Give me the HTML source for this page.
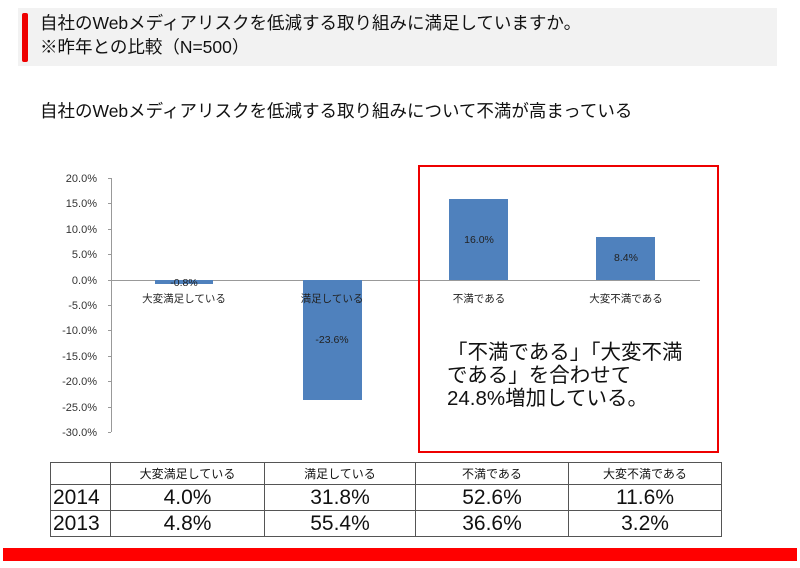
<!DOCTYPE html>
<html><head><meta charset="utf-8"><style>
body{margin:0;width:800px;height:568px;background:#fff;position:relative;overflow:hidden;font-family:"Liberation Sans","Noto Sans CJK JP",sans-serif;}
.a{position:absolute;}
table{border-collapse:collapse;}
td{border:1px solid #555;text-align:center;padding:0;}
</style></head><body>
<div class="a" style="left:18px;top:8px;width:759px;height:58px;background:#f2f2f2"></div>
<div class="a" style="left:22px;top:13px;width:6px;height:49px;background:#e00;border-radius:2px"></div>
<div class="a" style="left:40px;top:11px;font-size:17.5px;line-height:24px;color:#111">自社のWebメディアリスクを低減する取り組みに満足していますか。<br>※昨年との比較（N=500）</div>
<div class="a" style="left:40px;top:98px;font-size:17.5px;color:#111">自社のWebメディアリスクを低減する取り組みについて不満が高まっている</div>
<svg class="a" style="left:0;top:0" width="800" height="568">
<g font-size="11" fill="#333" text-anchor="end" font-family="Liberation Sans,sans-serif">
<text x="97" y="182">20.0%</text><text x="97" y="207">15.0%</text><text x="97" y="233">10.0%</text><text x="97" y="258">5.0%</text><text x="97" y="284">0.0%</text><text x="97" y="309">-5.0%</text><text x="97" y="334">-10.0%</text><text x="97" y="360">-15.0%</text><text x="97" y="385">-20.0%</text><text x="97" y="411">-25.0%</text><text x="97" y="436">-30.0%</text>
</g>
<g stroke="#999" stroke-width="1">
<line x1="111.5" y1="178" x2="111.5" y2="432"/>
<line x1="108" y1="178.5" x2="111" y2="178.5"/><line x1="108" y1="203.5" x2="111" y2="203.5"/><line x1="108" y1="229.5" x2="111" y2="229.5"/><line x1="108" y1="254.5" x2="111" y2="254.5"/><line x1="108" y1="280.5" x2="111" y2="280.5"/><line x1="108" y1="305.5" x2="111" y2="305.5"/><line x1="108" y1="330.5" x2="111" y2="330.5"/><line x1="108" y1="356.5" x2="111" y2="356.5"/><line x1="108" y1="381.5" x2="111" y2="381.5"/><line x1="108" y1="407.5" x2="111" y2="407.5"/><line x1="108" y1="432.5" x2="111" y2="432.5"/>
<line x1="111" y1="280.5" x2="700" y2="280.5"/>
</g>
<g fill="#4f81bd">
<rect x="155" y="280" width="58" height="4"/>
<rect x="303" y="280" width="59" height="120"/>
<rect x="449" y="199" width="59" height="81"/>
<rect x="596" y="237" width="59" height="43"/>
</g>
<g font-size="10.5" fill="#222" text-anchor="middle" font-family="Liberation Sans,'Noto Sans CJK JP',sans-serif">
<text x="184" y="286">-0.8%</text><text x="332" y="343">-23.6%</text><text x="479" y="243">16.0%</text><text x="626" y="261">8.4%</text>
<text x="184" y="302">大変満足している</text><text x="332" y="302">満足している</text><text x="479" y="302">不満である</text><text x="626" y="302">大変不満である</text>
</g>
<rect x="419" y="166" width="299" height="286" fill="none" stroke="#e00" stroke-width="2"/>
<g font-size="20.5" fill="#111" font-family="Liberation Sans,'Noto Sans CJK JP',sans-serif">
<text x="447" y="359">「不満である」「大変不満</text><text x="447" y="382">である」を合わせて</text><text x="447" y="405">24.8%増加している。</text>
</g>
</svg>
<table class="a" style="left:50px;top:462px;width:672px;color:#111">
<tr style="height:22px;font-size:12px"><td style="width:59px"></td><td style="width:153px">大変満足している</td><td style="width:150px">満足している</td><td style="width:152px">不満である</td><td>大変不満である</td></tr>
<tr style="height:26px;font-size:21px"><td style="text-align:left;padding-left:2px">2014</td><td>4.0%</td><td>31.8%</td><td>52.6%</td><td>11.6%</td></tr>
<tr style="height:26px;font-size:21px"><td style="text-align:left;padding-left:2px">2013</td><td>4.8%</td><td>55.4%</td><td>36.6%</td><td>3.2%</td></tr>
</table>
<div class="a" style="left:3px;top:548px;width:794px;height:13px;background:#f00"></div>
</body></html>
